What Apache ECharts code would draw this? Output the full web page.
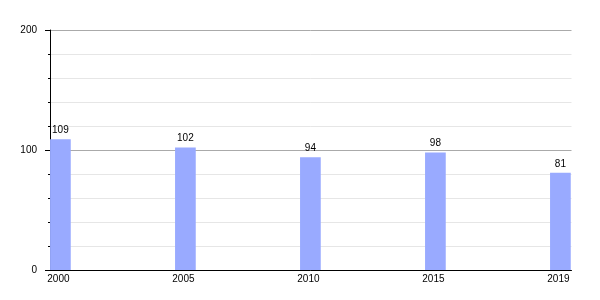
<!DOCTYPE html>
<html>
<head>
<meta charset="utf-8">
<script src="https://cdn.jsdelivr.net/npm/echarts@6/dist/echarts.min.js"></script>
<style>html,body{margin:0;padding:0;background:#fff}#c{width:600px;height:300px}</style>
</head>
<body>
<div id="c"></div>
<script>
const years = ['2000', '2005', '2010', '2015', '2019'];
const values = [109, 102, 94, 98, 81];
const yMin = 0, yMax = 200, yInterval = 100;

const font = 'Liberation Sans, Arial, sans-serif';
const chart = echarts.init(document.getElementById('c'), null, {renderer: 'canvas'});
chart.setOption({
  animation: false,
  backgroundColor: '#fff',
  grid: [
    {left: 50, right: 28.5, top: 30, bottom: 30},
    {left: 60.4, right: 39.6, top: 30, bottom: 30}
  ],
  xAxis: [
    {gridIndex: 0, type: 'value', min: 0, max: 1, axisLine: {show: true, onZero: false, lineStyle: {color: '#000', width: 1}},
     axisTick: {show: false}, axisLabel: {show: false}, splitLine: {show: false}},
    {gridIndex: 1, type: 'category', data: years, boundaryGap: false,
     axisLine: {show: false}, axisTick: {show: false}, splitLine: {show: false},
     axisLabel: {color: '#000', fontSize: 10, fontFamily: font, margin: 4, padding: [0, 4, 0, 0]}}
  ],
  yAxis: [
    {gridIndex: 0, type: 'value', min: yMin, max: yMax, interval: yInterval,
     axisLine: {show: true, lineStyle: {color: '#000', width: 1}},
     axisTick: {show: true, length: 5, lineStyle: {color: '#000'}},
     minorTick: {show: true, splitNumber: 5, length: 2, lineStyle: {color: '#000'}},
     axisLabel: {color: '#000', fontSize: 10, fontFamily: font, margin: 13, padding: [2, 0, 0, 0]},
     splitLine: {show: true, lineStyle: {color: '#aaaaaa', width: 1}},
     minorSplitLine: {show: true, lineStyle: {color: '#e6e6e6', width: 1}}},
    {gridIndex: 1, type: 'value', min: yMin, max: yMax, interval: yInterval, show: false,
     splitLine: {show: false}}
  ],
  series: [{
    type: 'bar', xAxisIndex: 1, yAxisIndex: 1, data: values, barWidth: 20.7,
    itemStyle: {color: '#99aaff'},
    label: {show: true, position: 'top', distance: 4, color: '#000', fontSize: 10, fontFamily: font}
  }]
});
</script>
</body>
</html>
